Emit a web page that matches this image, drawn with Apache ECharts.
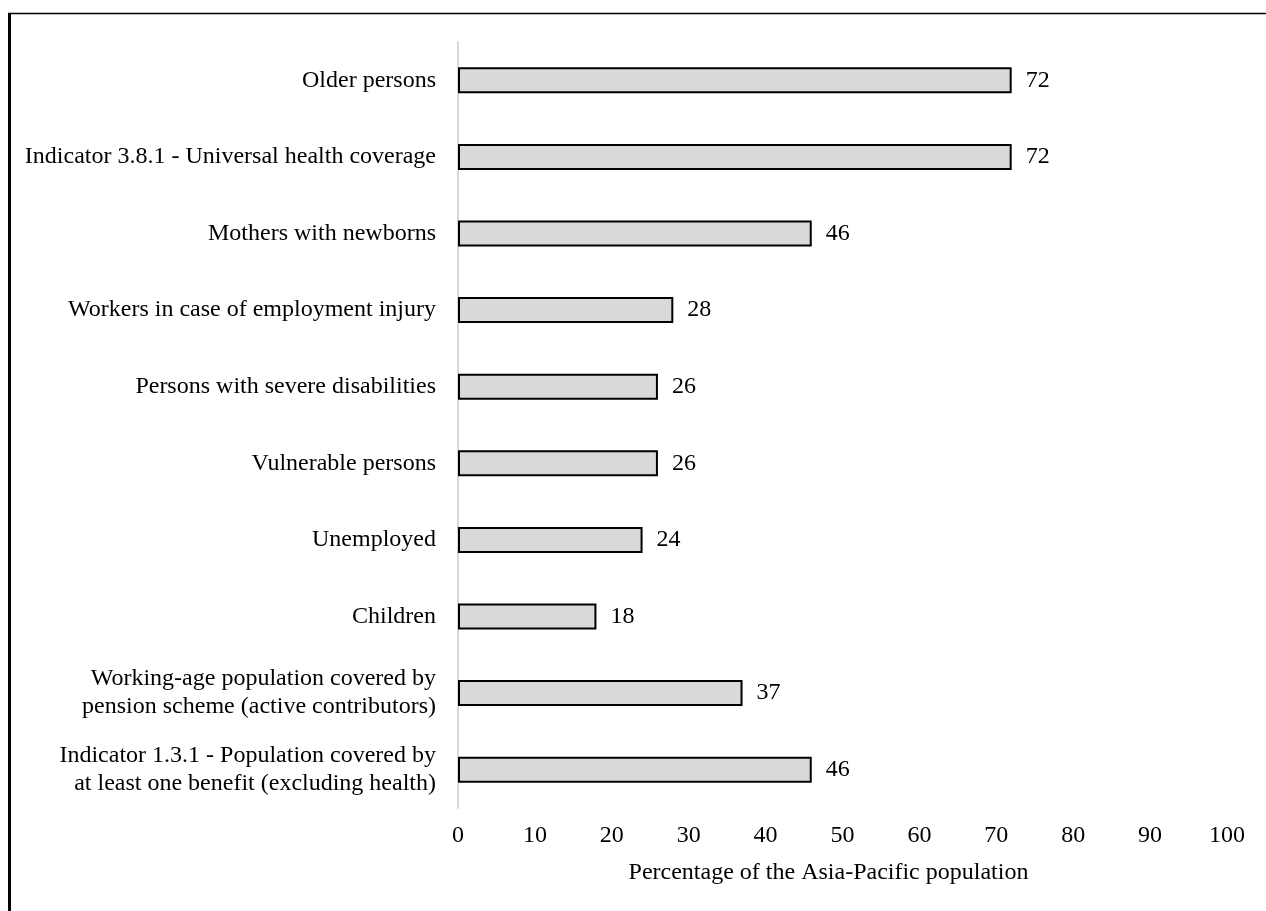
<!DOCTYPE html>
<html>
<head>
<meta charset="utf-8">
<script src="https://cdn.jsdelivr.net/npm/echarts@6/dist/echarts.min.js"></script>
<style>
  html, body { margin: 0; padding: 0; background: #fff; }
  #container { width: 1266px; height: 911px; }
</style>
</head>
<body>
<div id="container"></div>
<script>
var dom = document.getElementById("container");
var myChart = echarts.init(dom);
var option;

// categories listed top to bottom
var categories = [
    "Older persons",
    "Indicator 3.8.1 - Universal health coverage",
    "Mothers with newborns",
    "Workers in case of employment injury",
    "Persons with severe disabilities",
    "Vulnerable persons",
    "Unemployed",
    "Children",
    "Working-age population covered by\npension scheme (active contributors)",
    "Indicator 1.3.1 - Population covered by\nat least one benefit (excluding health)",
];
var coverage = [72, 72, 46, 28, 26, 26, 24, 18, 37, 46];
var xTicks = [0, 10, 20, 30, 40, 50, 60, 70, 80, 90, 100];
var xName = "Percentage of the Asia-Pacific population";

var font = "'Liberation Serif', 'Times New Roman', serif";

option = {
    animation: false,
    backgroundColor: "#fff",
    textStyle: {
        fontFamily: font,
        color: "#000",
    },
    graphic: [
        {
            type: "line",
            shape: { x1: 9.5, y1: 13, x2: 9.5, y2: 911 },
            style: { stroke: "#000", lineWidth: 3 },
        },
        {
            type: "line",
            shape: { x1: 8, y1: 13.5, x2: 1266, y2: 13.5 },
            style: { stroke: "#000", lineWidth: 1.5 },
        },
    ],
    grid: {
        left: 458,
        right: 39,
        top: 42,
        height: 766,
        containLabel: false,
    },
    xAxis: {
        type: "value",
        min: xTicks[0],
        max: xTicks[xTicks.length - 1],
        interval: 10,
        name: xName,
        nameLocation: "middle",
        nameGap: 53,
        nameTextStyle: {
            fontFamily: font,
            fontSize: 24,
            color: "#000",
            padding: [0, 28, 0, 0],
        },
        axisLine: { show: false },
        axisTick: { show: false },
        splitLine: { show: false },
        axisLabel: {
            fontFamily: font,
            fontSize: 24,
            color: "#000",
            margin: 16,
        },
    },
    yAxis: {
        type: "category",
        data: categories,
        inverse: true,
        axisLine: {
            show: true,
            lineStyle: { color: "#d9d9d9", width: 2 },
        },
        axisTick: { show: false },
        axisLabel: {
            fontFamily: font,
            fontSize: 24,
            color: "#000",
            margin: 22,
            lineHeight: 28,
            align: "right",
        },
    },
    series: [
        {
            name: "Coverage",
            type: "bar",
            data: coverage,
            barWidth: 26,
            itemStyle: {
                color: "#d9d9d9",
                borderColor: "#000",
                borderWidth: 2,
            },
            label: {
                show: true,
                position: "right",
                distance: 14,
                fontFamily: font,
                fontSize: 24,
                color: "#000",
            },
        },
    ],
};

if (option && typeof option === "object") {
    myChart.setOption(option);
}
</script>
</body>
</html>
